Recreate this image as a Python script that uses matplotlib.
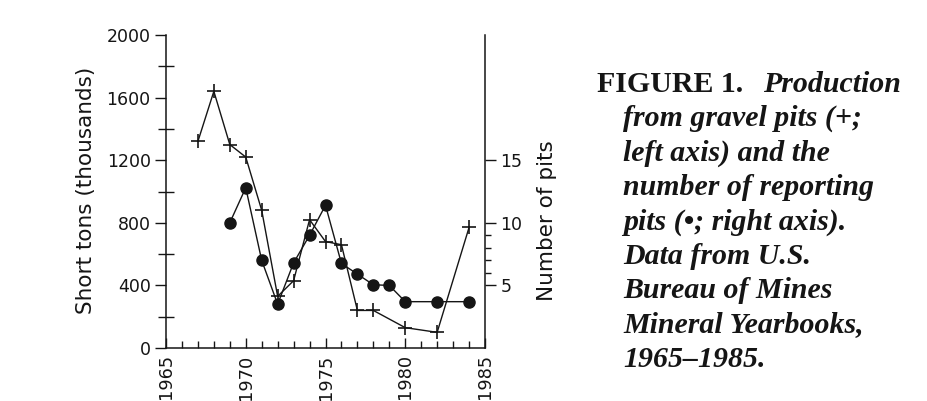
import matplotlib
matplotlib.use("Agg")
import matplotlib.pyplot as plt
from matplotlib.ticker import FixedLocator, MultipleLocator

# ---- data ----
years_prod = [1967, 1968, 1969, 1970, 1971, 1972, 1973, 1974, 1975, 1976, 1977, 1978, 1980, 1982, 1984]
production = [1320, 1640, 1300, 1220, 880, 330, 430, 820, 680, 660, 240, 240, 130, 100, 770]

years_pits = [1969, 1970, 1971, 1972, 1973, 1974, 1975, 1976, 1977, 1978, 1979, 1980, 1982, 1984]
pits = [10, 12.8, 7, 3.5, 6.8, 9, 11.4, 6.75, 5.9, 5.05, 5, 3.7, 3.7, 3.7]

x_ticks = [1965, 1970, 1975, 1980, 1985]
left_ticks = [0, 400, 800, 1200, 1600, 2000]
right_ticks = [5, 10, 15]
right_minor = [6, 7, 8, 9]

caption_first = ("FIGURE 1.", "Production")
caption_lines = [
    "from gravel pits (+;",
    "left axis) and the",
    "number of reporting",
    "pits (\u2022; right axis).",
    "Data from U.S.",
    "Bureau of Mines",
    "Mineral Yearbooks,",
    "1965\u20131985.",
]

# ---- figure ----
W, H = 927, 401
INK = "#151515"
fig = plt.figure(figsize=(W / 100, H / 100), dpi=100)
fig.patch.set_facecolor("white")

ax = fig.add_axes([166 / W, 1 - 348 / H, (485 - 166) / W, (348 - 35) / H])
ax2 = ax.twinx()

sans = "DejaVu Sans"
serif = "Liberation Serif"

# production (+, left axis)
ax.plot(years_prod, production, color=INK, lw=1.0, marker="+", ms=10, mew=1.2,
        clip_on=False, zorder=3)
# number of pits (filled circles, right axis)
ax2.plot(years_pits, pits, color=INK, lw=1.0, marker="o", ms=8, mfc=INK, mec=INK,
         clip_on=False, zorder=3)

# x axis
ax.set_xlim(1965, 1985)
ax.xaxis.set_major_locator(FixedLocator(x_ticks))
ax.xaxis.set_minor_locator(MultipleLocator(1))
ax.set_xticklabels([str(v) for v in x_ticks], rotation=90, fontsize=12.8,
                   family=sans, color=INK)
ax.tick_params(axis="x", which="major", direction="in", length=7.5, width=1.0,
               color=INK, pad=4.5)
ax.tick_params(axis="x", which="minor", direction="in", length=5, width=1.0, color=INK)

# left axis
ax.set_ylim(0, 2000)
ax.yaxis.set_major_locator(FixedLocator(left_ticks))
ax.yaxis.set_minor_locator(MultipleLocator(200))
ax.set_yticklabels([str(v) for v in left_ticks], fontsize=12.5, family=sans, color=INK)
ax.tick_params(axis="y", which="major", direction="out", length=8, width=1.0,
               color=INK, pad=3)
ax.tick_params(axis="y", which="minor", direction="inout", length=11, width=1.0, color=INK)

# right axis
ax2.set_ylim(0, 25)
ax2.yaxis.set_major_locator(FixedLocator(right_ticks))
ax2.yaxis.set_minor_locator(FixedLocator(right_minor))
ax2.set_yticklabels([str(v) for v in right_ticks], fontsize=12.5, family=sans, color=INK)
ax2.tick_params(axis="y", which="major", direction="out", length=8, width=1.0,
                color=INK, pad=3)
ax2.tick_params(axis="y", which="minor", direction="out", length=4, width=1.0, color=INK)

for a in (ax, ax2):
    a.spines["top"].set_visible(False)
    a.set_facecolor("none")
ax.spines["right"].set_visible(False)
ax2.spines["left"].set_visible(False)
ax2.spines["bottom"].set_visible(False)
for s in ("left", "bottom"):
    ax.spines[s].set_linewidth(1.1)
    ax.spines[s].set_color(INK)
ax2.spines["right"].set_linewidth(1.1)
ax2.spines["right"].set_color(INK)

# axis titles
fig.text(86 / W, 1 - 190 / H, "Short tons (thousands)", rotation=90, ha="center",
         va="center", fontsize=15.5, family=sans, color=INK)
fig.text(547 / W, 1 - 221 / H, "Number of pits", rotation=90, ha="center",
         va="center", fontsize=15.5, family=sans, color=INK)

# caption
base0 = 91.7
step = 34.4
cap_fs = 21.5
fig.text(597 / W, 1 - base0 / H, caption_first[0], family=serif, weight="bold",
         fontsize=cap_fs, va="baseline", ha="left", color=INK)
fig.text(763 / W, 1 - base0 / H, caption_first[1], family=serif, weight="bold",
         style="italic", fontsize=cap_fs, va="baseline", ha="left", color=INK)
for i, line in enumerate(caption_lines, start=1):
    fig.text(623 / W, 1 - (base0 + i * step) / H, line, family=serif, weight="bold",
             style="italic", fontsize=cap_fs, va="baseline", ha="left", color=INK)

fig.savefig("out.png", dpi=100, facecolor="white")
